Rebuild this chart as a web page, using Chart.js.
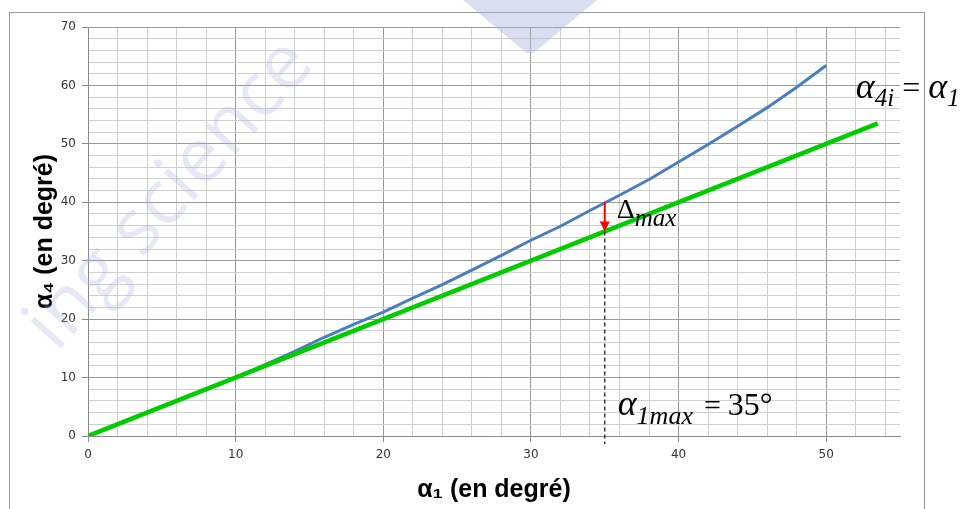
<!DOCTYPE html>
<html>
<head>
<meta charset="utf-8">
<script src="https://cdn.jsdelivr.net/npm/chart.js@4/dist/chart.umd.min.js"></script>
<style>
    html, body { margin: 0; padding: 0; background: #ffffff; }
</style>
</head>
<body>
<canvas id="grafico" width="963" height="509"></canvas>
<script>
// Données
const alpha1 = [0, 2, 4, 6, 8, 10, 12, 14, 16, 18, 20, 22, 24, 26, 28, 30, 32, 34, 36, 38, 40, 42, 44, 46, 48, 50];
const alpha4 = [0, 2.0, 4.0, 6.0, 8.0, 10.0, 12.2, 14.5, 16.9, 19.1, 21.2, 23.6, 25.9, 28.4, 30.9, 33.5, 35.9, 38.6, 41.2, 43.9, 46.9, 49.9, 53.0, 56.2, 59.7, 63.4];

// droite alpha4i = alpha1
const droiteX = [0, 53.5];
const droiteY = [0, 53.5];

// étiquettes des axes
const xLabels = [0, 10, 20, 30, 40, 50];
const yLabels = [0, 10, 20, 30, 40, 50, 60, 70];

// point de l'écart maximal
const alpha1Max = 35;
const alpha4Max = 40;

const couleurMajeure = '#9a9a9a';
const couleurMineure = '#cfcfcf';

function esMajeur(ctx) {
    return ctx.tick && ctx.tick.value % 10 === 0;
}

function dibujarTexto(ctx, x, y, partes) {
    let cx = x;
    partes.forEach(p => {
        cx += p.before || 0;
        ctx.font = (p.italic ? 'italic ' : '') + p.size + 'px "Liberation Serif", "DejaVu Serif", serif';
        ctx.fillText(p.t, cx, y + (p.dy || 0));
        cx += ctx.measureText(p.t).width;
    });
}

// filigrane du site, très pâle
const filigrane = {
    id: 'filigrane',
    beforeDatasetsDraw(chart) {
        const ctx = chart.ctx;
        ctx.save();
        ctx.fillStyle = 'rgba(170, 182, 222, 0.30)';
        ctx.translate(170, 195);
        ctx.rotate(-48 * Math.PI / 180);
        ctx.font = '76px "Open Sans", "DejaVu Sans", sans-serif';
        ctx.textAlign = 'center';
        ctx.textBaseline = 'middle';
        ctx.fillText('ing science', 0, 0);
        ctx.restore();

        ctx.save();
        ctx.fillStyle = 'rgba(170, 182, 222, 0.45)';
        ctx.beginPath();
        ctx.moveTo(463, 0);
        ctx.lineTo(597, 0);
        ctx.lineTo(537, 50);
        ctx.quadraticCurveTo(530, 57, 523, 50);
        ctx.closePath();
        ctx.fill();
        ctx.restore();
    }
};

// cadre, flèche, pointillés et textes
const annotations = {
    id: 'annotations',
    beforeDraw(chart) {
        const ctx = chart.ctx;
        ctx.save();
        ctx.strokeStyle = '#9a9a9a';
        ctx.lineWidth = 1;
        ctx.strokeRect(9.5, 12.5, 915, 520);
        ctx.restore();
    },
    afterDatasetsDraw(chart) {
        const ctx = chart.ctx;
        const x = chart.scales.x;
        const y = chart.scales.y;
        const px = x.getPixelForValue(alpha1Max);
        const pHaut = y.getPixelForValue(alpha4Max);
        const pBas = y.getPixelForValue(alpha1Max);
        const p0 = y.getPixelForValue(0);

        ctx.save();
        // pointillés verticaux
        ctx.strokeStyle = '#3a3a3a';
        ctx.lineWidth = 1.5;
        ctx.setLineDash([4, 3]);
        ctx.beginPath();
        ctx.moveTo(px, pBas);
        ctx.lineTo(px, p0 + 8);
        ctx.stroke();
        ctx.setLineDash([]);

        // flèche rouge
        ctx.strokeStyle = '#ff0000';
        ctx.fillStyle = '#ff0000';
        ctx.lineWidth = 2;
        ctx.beginPath();
        ctx.moveTo(px, pHaut);
        ctx.lineTo(px, pBas - 8);
        ctx.stroke();
        ctx.beginPath();
        ctx.moveTo(px - 5, pBas - 10);
        ctx.lineTo(px + 5, pBas - 10);
        ctx.lineTo(px, pBas);
        ctx.closePath();
        ctx.fill();

        // textes
        ctx.fillStyle = '#000000';
        ctx.textBaseline = 'alphabetic';
        dibujarTexto(ctx, px + 12, pBas - 14, [
            { t: 'Δ', size: 28 },
            { t: 'max', size: 25, italic: true, dy: 8 }
        ]);

        const fx = x.getPixelForValue(droiteX[1]);
        const fy = y.getPixelForValue(droiteY[1]);
        dibujarTexto(ctx, fx - 22, fy - 25, [
            { t: 'α', size: 36, italic: true },
            { t: '4i', size: 25, italic: true, dy: 8 },
            { t: '=', size: 32, before: 8 },
            { t: 'α', size: 36, italic: true, before: 8 },
            { t: '1', size: 25, italic: true, dy: 8 }
        ]);

        dibujarTexto(ctx, px + 13, p0 - 21, [
            { t: 'α', size: 36, italic: true },
            { t: '1max', size: 26, italic: true, dy: 9 },
            { t: '=', size: 30, before: 11 },
            { t: '35°', size: 32, before: 7 }
        ]);
        ctx.restore();
    }
};

new Chart(document.getElementById('grafico'), {
    type: 'scatter',
    data: {
        datasets: [
            {
                label: 'alpha4i = alpha1',
                data: droiteX.map((v, i) => ({ x: v, y: droiteY[i] })),
                showLine: true,
                borderColor: '#00cc00',
                borderWidth: 4.5,
                pointRadius: 0,
                borderCapStyle: 'butt'
            },
            {
                label: 'alpha4',
                data: alpha1.map((v, i) => ({ x: v, y: alpha4[i] })),
                showLine: true,
                borderColor: '#4a7ebb',
                borderWidth: 3,
                pointRadius: 0,
                tension: 0
            }
        ]
    },
    options: {
        responsive: false,
        animation: false,
        layout: {
            padding: { top: 27, right: 63, left: 0, bottom: 0 }
        },
        plugins: {
            legend: { display: false },
            tooltip: { enabled: false }
        },
        scales: {
            x: {
                type: 'linear',
                min: 0,
                max: 55,
                afterFit: scale => { scale.height = 73; },
                ticks: {
                    stepSize: 2,
                    includeBounds: false,
                    autoSkip: false,
                    maxRotation: 0,
                    padding: 6,
                    color: '#333333',
                    font: { family: '"DejaVu Sans", sans-serif', size: 12 },
                    callback: v => xLabels.includes(v) ? v : ''
                },
                grid: {
                    color: ctx => esMajeur(ctx) ? couleurMajeure : couleurMineure,
                    tickColor: ctx => esMajeur(ctx) ? '#8a8a8a' : 'rgba(0,0,0,0)',
                    tickLength: 6,
                    lineWidth: 1
                },
                border: { color: '#8a8a8a', width: 1 },
                title: {
                    display: true,
                    text: 'α₁ (en degré)',
                    color: '#000000',
                    font: { family: '"Liberation Sans", Arial, sans-serif', size: 25, weight: 'bold' },
                    padding: { top: 12 }
                }
            },
            y: {
                type: 'linear',
                min: 0,
                max: 70,
                afterFit: scale => { scale.width = 88; },
                ticks: {
                    stepSize: 2,
                    autoSkip: false,
                    padding: 6,
                    color: '#333333',
                    font: { family: '"DejaVu Sans", sans-serif', size: 12 },
                    callback: v => yLabels.includes(v) ? v : ''
                },
                grid: {
                    color: ctx => esMajeur(ctx) ? couleurMajeure : couleurMineure,
                    tickColor: ctx => esMajeur(ctx) ? '#8a8a8a' : 'rgba(0,0,0,0)',
                    tickLength: 6,
                    lineWidth: 1
                },
                border: { color: '#8a8a8a', width: 1 },
                title: {
                    display: true,
                    text: 'α₄ (en degré)',
                    color: '#000000',
                    font: { family: '"Liberation Sans", Arial, sans-serif', size: 25, weight: 'bold' },
                    padding: { top: 30 }
                }
            }
        }
    },
    plugins: [filigrane, annotations]
});
</script>
</body>
</html>
